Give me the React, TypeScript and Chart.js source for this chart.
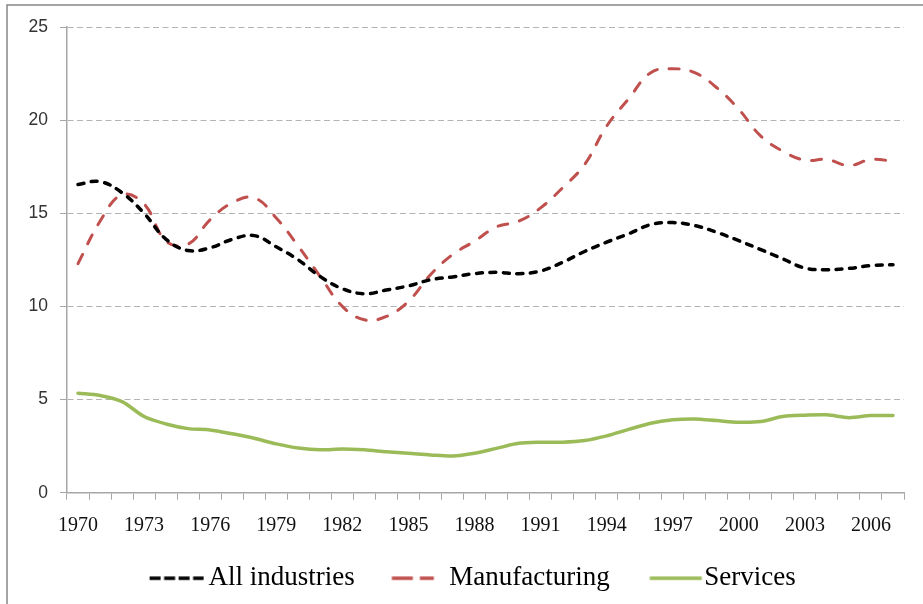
import React, { useEffect, useRef } from "react";
import { Chart, registerables } from "chart.js";

Chart.register(...registerables);

const years = [
  "1970", "1971", "1972", "1973", "1974", "1975", "1976", "1977", "1978", "1979",
  "1980", "1981", "1982", "1983", "1984", "1985", "1986", "1987", "1988", "1989",
  "1990", "1991", "1992", "1993", "1994", "1995", "1996", "1997", "1998", "1999",
  "2000", "2001", "2002", "2003", "2004", "2005", "2006", "2007",
];

const shownYears = ["1970", "1973", "1976", "1979", "1982", "1985", "1988", "1991", "1994", "1997", "2000", "2003", "2006"];

const allIndustries = [
  16.55, 16.7, 16.1, 15.0, 13.6, 13.0, 13.15, 13.6, 13.8, 13.2,
  12.5, 11.6, 10.95, 10.68, 10.88, 11.1, 11.43, 11.58, 11.76, 11.83,
  11.76, 11.9, 12.37, 12.95, 13.45, 13.9, 14.39, 14.5, 14.34, 13.98,
  13.53, 13.05, 12.55, 12.06, 11.97, 12.04, 12.19, 12.24,
];

const manufacturing = [
  12.3, 14.57, 16.0, 15.5, 13.5, 13.35, 14.66, 15.56, 15.83, 14.75,
  13.23, 11.6, 10.0, 9.28, 9.46, 10.27, 11.7, 12.78, 13.5, 14.27,
  14.57, 15.29, 16.37, 17.62, 19.68, 21.15, 22.55, 22.76, 22.55, 21.74,
  20.58, 19.14, 18.33, 17.85, 17.89, 17.56, 17.89, 17.8,
];

const services = [
  5.34, 5.22, 4.89, 4.09, 3.69, 3.44, 3.37, 3.16, 2.92, 2.62,
  2.4, 2.3, 2.35, 2.3, 2.2, 2.12, 2.03, 1.97, 2.12, 2.38,
  2.65, 2.71, 2.71, 2.8, 3.05, 3.4, 3.73, 3.91, 3.96, 3.87,
  3.78, 3.82, 4.09, 4.16, 4.18, 4.03, 4.14, 4.14,
];

const yTicks = [0, 5, 10, 15, 20, 25];

const W = 934;
const H = 620;
const LEGEND_BOX = 40;
const LEGEND_FONT = 27;
const LEGEND_PAD = 41;

// legend sample image: width = box + font size, right edge touches the text start
function makeSample(color: string, width: number, segments: number[][]) {
  const c = document.createElement("canvas");
  c.width = LEGEND_BOX + LEGEND_FONT;
  c.height = 8;
  const ctx = c.getContext("2d")!;
  ctx.strokeStyle = color;
  ctx.lineWidth = width;
  ctx.lineCap = "butt";
  segments.forEach(([a, b]) => {
    ctx.beginPath();
    ctx.moveTo(a, 4);
    ctx.lineTo(b, 4);
    ctx.stroke();
  });
  return c;
}

const framePlugin = {
  id: "frame",
  beforeDraw(chart: any) {
    const ctx = chart.ctx;
    ctx.save();
    ctx.fillStyle = "#ffffff";
    ctx.fillRect(0, 0, chart.width, chart.height);
    ctx.strokeStyle = "#868686";
    ctx.lineWidth = 1.5;
    ctx.strokeRect(1, 1, chart.width - 2, chart.height - 2);
    ctx.restore();
  },
  afterLayout(chart: any) {
    const lg = chart.legend;
    if (!lg) return;
    const h = lg.height;
    lg.left = 1.5;
    lg.right = 937.3;
    lg.top = 519.7;
    lg.bottom = 519.7 + h;
  },
};

export default function App() {
  const ref = useRef<HTMLCanvasElement | null>(null);

  useEffect(() => {
    if (!ref.current) return;
    const samples = [
      makeSample("#000000", 3.5, [[8, 19], [22.5, 33.5], [37, 48], [51.5, 62]]),
      makeSample("#c0504d", 3.5, [[9.5, 30.5], [37.5, 51.5]]),
      makeSample("#9bbb59", 3.5, [[12.5, 64.5]]),
    ];
    const chart = new Chart(ref.current, {
      type: "line",
      data: {
        labels: years,
        datasets: [
          {
            label: "All industries",
            data: allIndustries,
            borderColor: "#000000",
            backgroundColor: "#000000",
            borderWidth: 3.5,
            borderDash: [6, 7.5],
            borderCapStyle: "round",
            pointRadius: 0,
            tension: 0.4,
            fill: false,
          },
          {
            label: "Manufacturing",
            data: manufacturing,
            borderColor: "#c0504d",
            backgroundColor: "#c0504d",
            borderWidth: 3,
            borderDash: [10, 12],
            borderCapStyle: "round",
            pointRadius: 0,
            tension: 0.4,
            fill: false,
          },
          {
            label: "Services",
            data: services,
            borderColor: "#9bbb59",
            backgroundColor: "#9bbb59",
            borderWidth: 3.5,
            borderCapStyle: "round",
            pointRadius: 0,
            tension: 0.3,
            fill: false,
          },
        ],
      },
      options: {
        animation: false,
        responsive: false,
        devicePixelRatio: 1,
        layout: { padding: { left: 0, right: 36, top: 23, bottom: 3.3 } },
        plugins: {
          tooltip: { enabled: false },
          legend: {
            position: "bottom",
            labels: {
              usePointStyle: true,
              pointStyleWidth: LEGEND_BOX,
              padding: LEGEND_PAD,
              color: "#000000",
              font: { family: "'Liberation Serif', 'Times New Roman', serif", size: LEGEND_FONT },
              generateLabels: (chart: any) => {
                const items = (Chart as any).defaults.plugins.legend.labels.generateLabels(chart);
                return items.map((it: any, i: number) => ({ ...it, pointStyle: samples[i], lineDash: [] }));
              },
            },
          },
        },
        scales: {
          x: {
            type: "category",
            offset: true,
            grid: {
              offset: true,
              drawOnChartArea: false,
              drawTicks: true,
              tickLength: 7,
              tickColor: "#a6a6a6",
              tickWidth: 1,
            },
            border: { display: true, color: "#a6a6a6", width: 1.5 },
            ticks: {
              autoSkip: false,
              maxRotation: 0,
              minRotation: 0,
              padding: 14,
              color: "#111111",
              font: { family: "'Liberation Serif', 'Times New Roman', serif", size: 20 },
              callback: function (this: any, _v: any, i: number) {
                const l = years[i];
                return shownYears.includes(l) ? l : "";
              },
            },
            afterFit: (scale: any) => {
              scale.height = 50;
            },
          },
          y: {
            min: 0,
            max: 25,
            afterBuildTicks: (scale: any) => {
              scale.ticks = yTicks.map((v) => ({ value: v }));
            },
            grid: {
              color: "#b3b3b3",
              lineWidth: 1,
              tickLength: 7,
              tickColor: "#a6a6a6",
              tickBorderDash: [],
            },
            border: { display: true, color: "#a6a6a6", width: 1.5, dash: [6, 3.5] },
            ticks: {
              padding: 12,
              color: "#333333",
              font: { family: "'Liberation Sans', Arial, sans-serif", size: 17.5 },
            },
            afterFit: (scale: any) => {
              scale.width = 61;
            },
          },
        },
      },
      plugins: [framePlugin],
    } as any);
    return () => chart.destroy();
  }, []);

  return (
    <div style={{ position: "fixed", left: 0, top: 0, width: 923, height: 604, overflow: "hidden", background: "#fff" }}>
      <canvas
        ref={ref}
        width={W}
        height={H}
        style={{ position: "absolute", left: 6, top: 4, width: W, height: H }}
      />
    </div>
  );
}
